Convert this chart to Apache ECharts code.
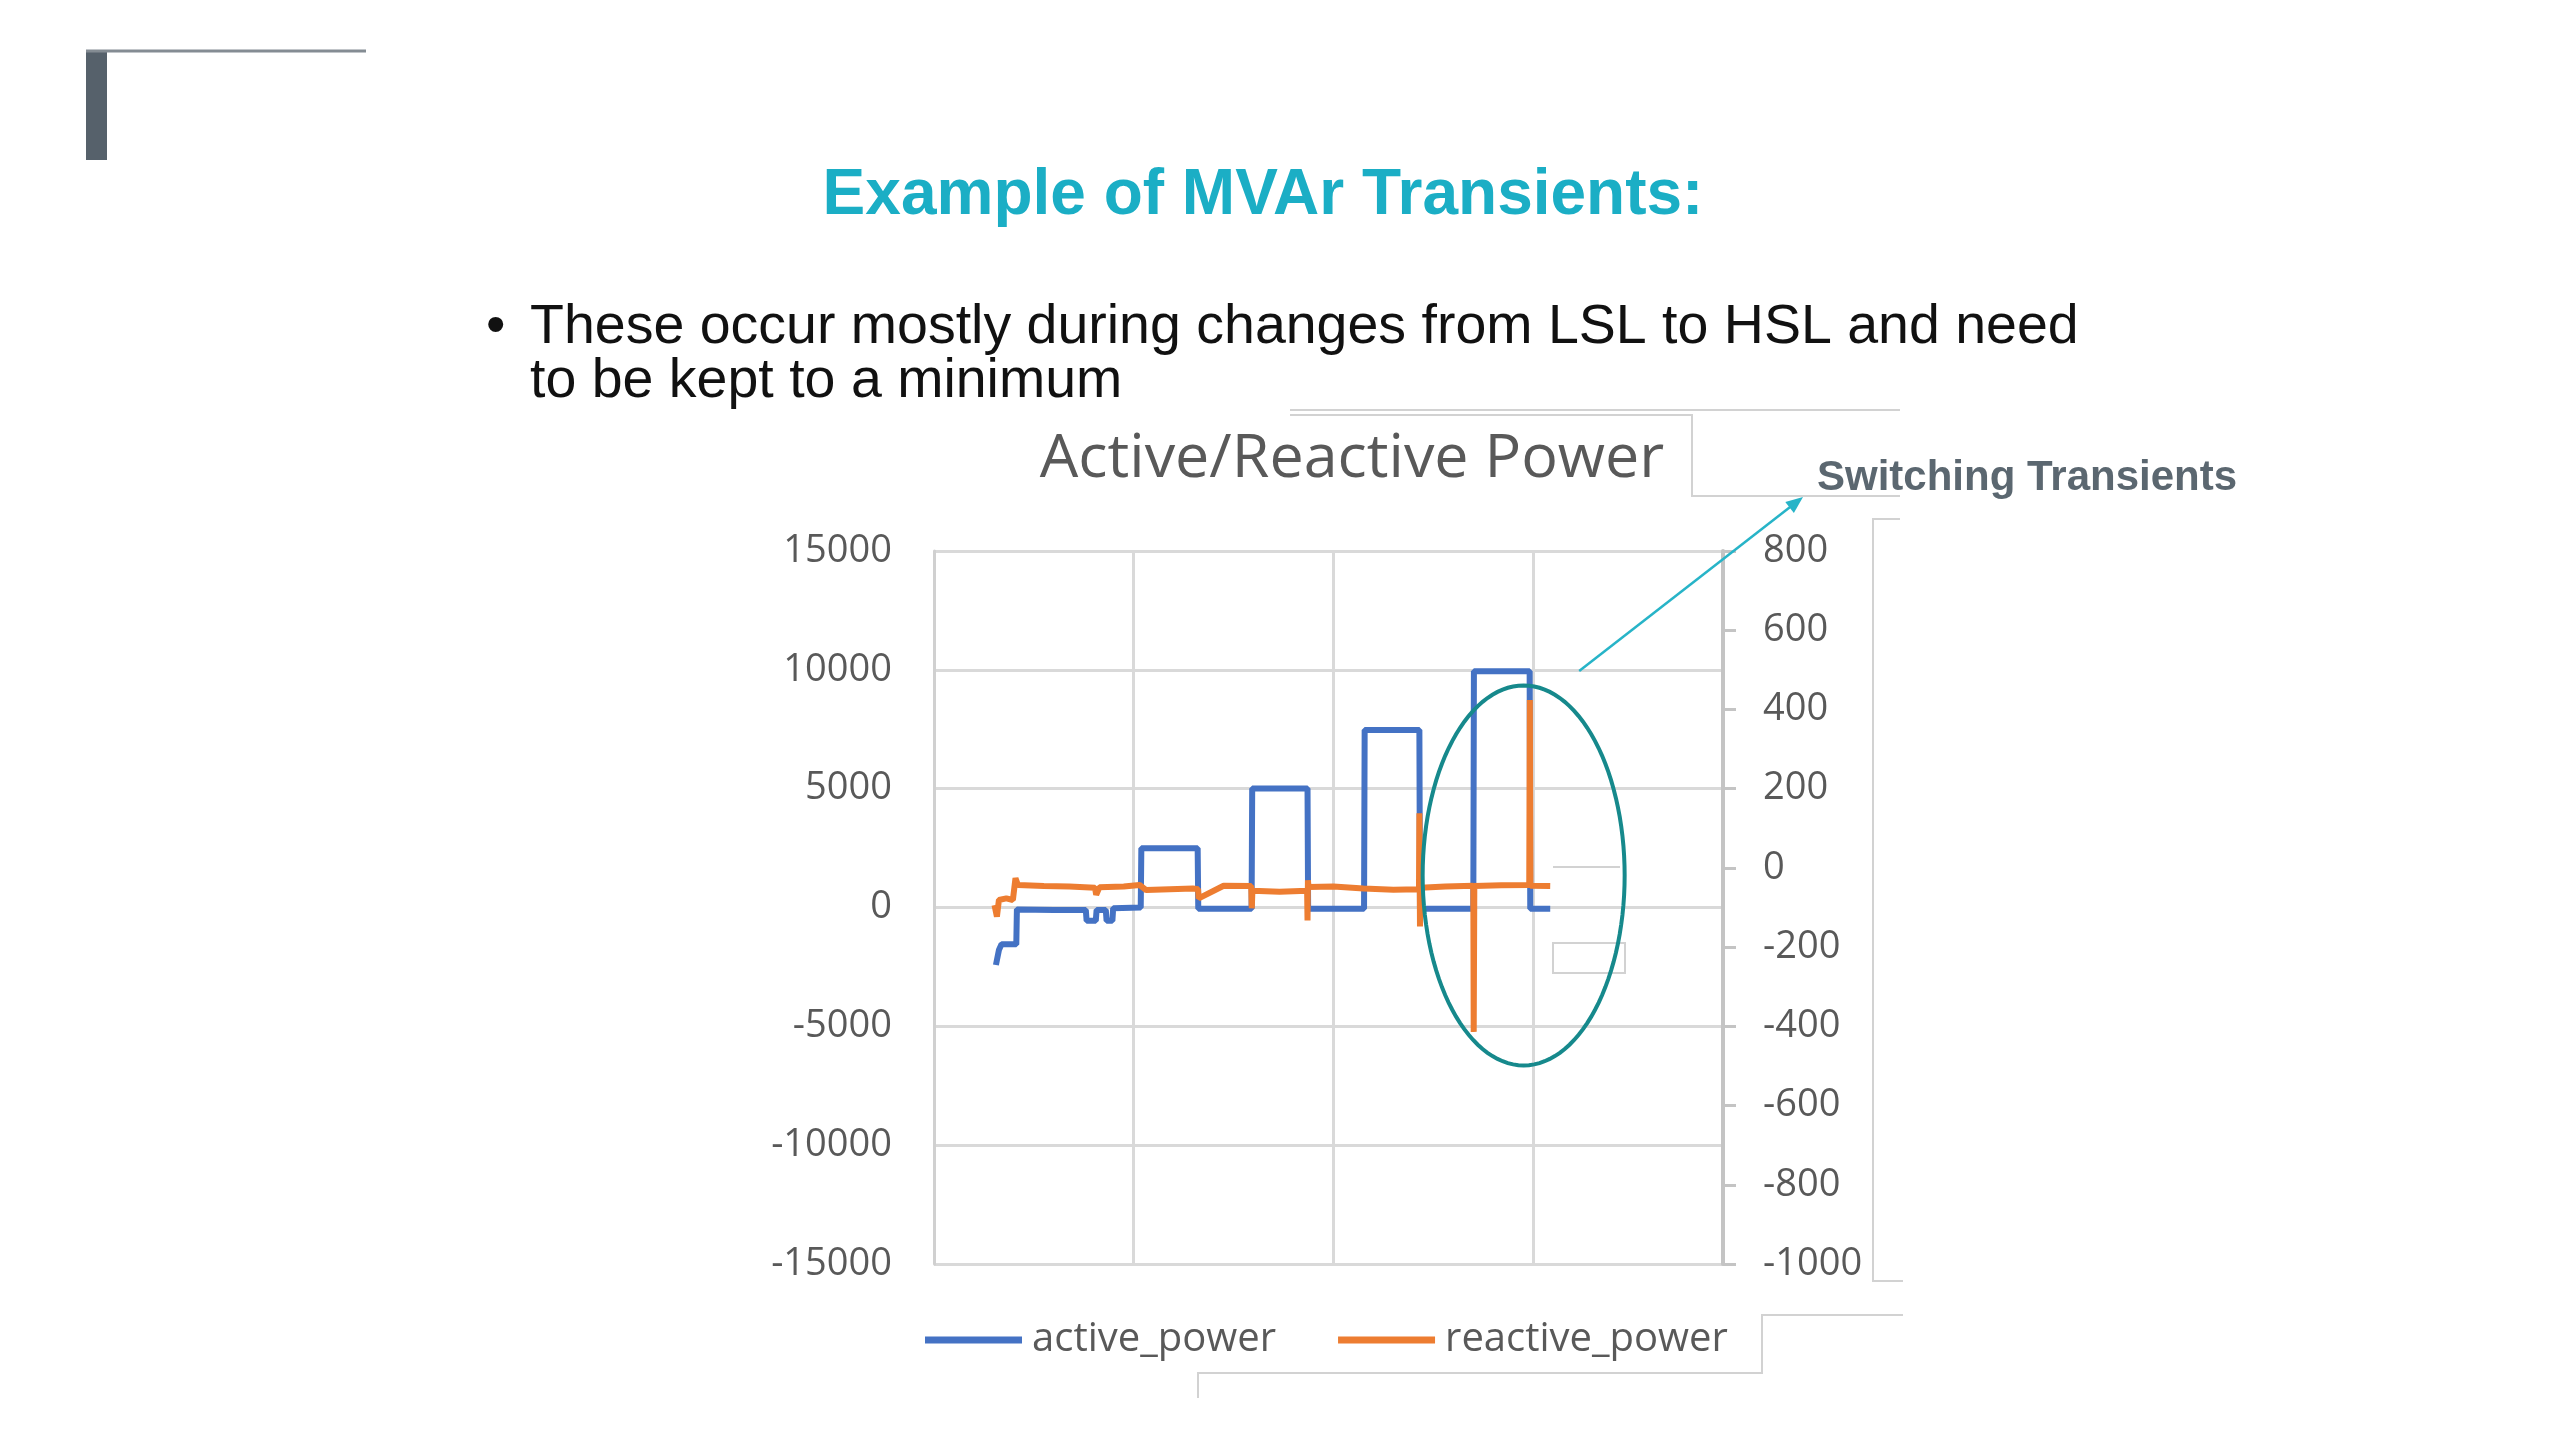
<!DOCTYPE html>
<html>
<head>
<meta charset="utf-8">
<title>Example of MVAr Transients</title>
<script src="https://cdn.jsdelivr.net/npm/echarts@6/dist/echarts.min.js"></script>
<style>
  html, body { margin: 0; padding: 0; background: #fff; }
  #main { width: 2560px; height: 1440px; }
</style>
</head>
<body>
<div id="main"></div>
<script>
// sample index (x) and active power (MW)
var activeT = [31, 32.5, 33.8, 41.2, 41.5, 60, 76, 76.4, 81, 81.4, 86, 86.4, 89.3, 89.7, 103.5, 103.8, 132, 132.3, 159, 159.3, 187, 187.3, 215.3, 215.6, 243, 243.3, 270, 270.3, 298.2, 298.5, 308.5];
var activeP = [-2420, -1790, -1550, -1550, -80, -100, -100, -560, -560, -100, -100, -560, -560, -30, 0, 2490, 2490, -50, -50, 5010, 5010, -50, -50, 7470, 7470, -50, -50, 9940, 9940, -50, -50];

// reactive power (MVAr), right axis
var reactiveT = [30.3, 31.5, 32.5, 36.2, 39.5, 40.8, 42, 55, 67.8, 80.6, 81.2, 82.8, 95, 102.9, 106.2, 118, 129.6, 132.2, 132.5, 145, 158.8, 159.1, 159.4, 173, 186.8, 187, 187.2, 187.5, 200, 215, 230, 242.8, 243, 243.3, 243.6, 256, 270, 270.2, 270.5, 284, 298, 298.3, 298.6, 308.5];
var reactiveQ = [-94, -123, -81, -77, -81, -26, -43, -46, -47, -50, -68, -49, -47, -43, -56, -54, -52, -54, -77, -45, -46, -102, -58, -60, -58, -133, -31, -48, -47, -52, -55, -54, 138, -148, -50, -47, -45, -414, -46, -44, -43, 424, -45, -46];

// axis ticks
var leftTicks = { min: -15000, max: 15000, step: 5000 };
var rightTicks = { min: -1000, max: 800, step: 200 };
var xTicks = { min: 0, max: 395, step: 100 };

var legendNames = ['active_power', 'reactive_power'];
var seriesColors = ['#4472C4', '#ED7D31'];

function toPairs(xs, ys) {
  var out = [];
  for (var i = 0; i < xs.length; i++) {
    out.push([xs[i], ys[i]]);
  }
  return out;
}

// plain numbers, no thousands separator
function plain(v) {
  return String(v);
}

var chart = echarts.init(document.getElementById('main'), null, { renderer: 'canvas' });

var axisFont = '"Open Sans", "DejaVu Sans", sans-serif';
var slideFont = '"Liberation Sans", Arial, sans-serif';

var option = {
  animation: false,
  backgroundColor: '#ffffff',
  color: seriesColors,
  grid: { left: 934, right: 837, top: 551, bottom: 176, containLabel: false },
  legend: {
    data: legendNames,
    left: 920,
    top: 1315,
    icon: 'rect',
    itemWidth: 97,
    itemHeight: 7,
    itemGap: 62,
    textStyle: { fontFamily: axisFont, fontSize: 40, color: '#595959', padding: [0, 0, 0, 5] }
  },
  xAxis: {
    type: 'value',
    min: xTicks.min,
    max: xTicks.max,
    interval: xTicks.step,
    axisLine: { show: false, onZero: false },
    axisTick: { show: false },
    axisLabel: { show: false },
    splitLine: { show: true, lineStyle: { color: '#d9d9d9', width: 3 } }
  },
  yAxis: [
    {
      type: 'value',
      position: 'left',
      min: leftTicks.min,
      max: leftTicks.max,
      interval: leftTicks.step,
      axisLine: { show: true, onZero: false, lineStyle: { color: '#d0d0d0', width: 3 } },
      axisTick: { show: false },
      axisLabel: { fontFamily: axisFont, fontSize: 38, color: '#595959', margin: 42, formatter: plain },
      splitLine: { show: true, lineStyle: { color: '#d9d9d9', width: 3 } }
    },
    {
      type: 'value',
      position: 'right',
      min: rightTicks.min,
      max: rightTicks.max,
      interval: rightTicks.step,
      axisLine: { show: true, onZero: false, lineStyle: { color: '#c4c4c4', width: 4 } },
      axisTick: { show: true, length: 13, lineStyle: { color: '#c4c4c4', width: 3 } },
      axisLabel: { fontFamily: axisFont, fontSize: 38, color: '#595959', margin: 40, formatter: plain },
      splitLine: { show: false }
    }
  ],
  series: [
    {
      name: legendNames[0],
      type: 'line',
      yAxisIndex: 0,
      data: toPairs(activeT, activeP),
      symbol: 'none',
      lineStyle: { width: 6, color: seriesColors[0] },
      z: 2
    },
    {
      name: legendNames[1],
      type: 'line',
      yAxisIndex: 1,
      data: toPairs(reactiveT, reactiveQ),
      symbol: 'none',
      lineStyle: { width: 6, color: seriesColors[1] },
      z: 3
    }
  ]
};
chart.setOption(option);

// slide decorations and callout
var ellipseCenter = chart.convertToPixel({ xAxisIndex: 0, yAxisIndex: 0 }, [295.2, 1350]);
var ellipsePts = [];
for (var k = 0; k < 120; k++) {
  var a = k / 120 * Math.PI * 2;
  ellipsePts.push([ellipseCenter[0] + 101 * Math.cos(a), ellipseCenter[1] + 190 * Math.sin(a)]);
}

var arrowFrom = chart.convertToPixel({ xAxisIndex: 0, yAxisIndex: 0 }, [323, 9950]);
var arrowTo = [1803, 497];
var dx = arrowTo[0] - arrowFrom[0], dy = arrowTo[1] - arrowFrom[1];
var len = Math.sqrt(dx * dx + dy * dy);
var ux = dx / len, uy = dy / len;
var headL = 17, headW = 7;
var headPts = [
  arrowTo,
  [arrowTo[0] - headL * ux - headW * uy, arrowTo[1] - headL * uy + headW * ux],
  [arrowTo[0] - headL * ux + headW * uy, arrowTo[1] - headL * uy - headW * ux]
];

var ghost = { stroke: '#d2d2d2', lineWidth: 2, fill: null };

chart.setOption({
  graphic: [
    // corner bracket
    { type: 'rect', shape: { x: 86, y: 51, width: 21, height: 109 }, style: { fill: '#56616B' } },
    { type: 'line', shape: { x1: 86, y1: 51, x2: 366, y2: 51 }, style: { stroke: '#848c93', lineWidth: 3 } },
    // slide heading
    { type: 'text', x: 1263, y: 196, style: { text: 'Example of MVAr Transients:', font: 'bold 64px ' + slideFont, fill: '#1BAEC5', textAlign: 'center', textVerticalAlign: 'middle' } },
    { type: 'text', x: 486, y: 328, style: { text: '\u2022', font: '55.5px ' + slideFont, fill: '#111', textAlign: 'left', textVerticalAlign: 'middle' } },
    { type: 'text', x: 530, y: 328, style: { text: 'These occur mostly during changes from LSL to HSL and need', font: '55.5px ' + slideFont, fill: '#111', textAlign: 'left', textVerticalAlign: 'middle' } },
    { type: 'text', x: 530, y: 382, style: { text: 'to be kept to a minimum', font: '55.5px ' + slideFont, fill: '#111', textAlign: 'left', textVerticalAlign: 'middle' } },
    // leftover screenshot borders
    { type: 'polyline', shape: { points: [[1290, 410], [1900, 410]] }, style: ghost },
    { type: 'polyline', shape: { points: [[1290, 415], [1692, 415], [1692, 496], [1900, 496]] }, style: ghost },
    { type: 'polyline', shape: { points: [[1900, 519], [1873, 519], [1873, 1281], [1903, 1281]] }, style: ghost },
    { type: 'polyline', shape: { points: [[1903, 1315], [1762, 1315], [1762, 1373], [1198, 1373], [1198, 1398]] }, style: ghost },
    { type: 'polyline', shape: { points: [[1553, 867], [1620, 867]] }, style: ghost },
    { type: 'rect', shape: { x: 1553, y: 943, width: 72, height: 30 }, style: ghost },
    // chart title
    { type: 'text', x: 1352, y: 460, style: { text: 'Active/Reactive Power', font: '61px ' + axisFont, fill: '#595959', textAlign: 'center', textVerticalAlign: 'middle' } },
    // callout
    { type: 'polygon', shape: { points: ellipsePts }, style: { stroke: '#16898C', lineWidth: 4, fill: null }, z: 10 },
    { type: 'line', shape: { x1: arrowFrom[0], y1: arrowFrom[1], x2: arrowTo[0] - headL * ux * 0.6, y2: arrowTo[1] - headL * uy * 0.6 }, style: { stroke: '#27B4C8', lineWidth: 2.5 }, z: 10 },
    { type: 'polygon', shape: { points: headPts }, style: { fill: '#27B4C8' }, z: 10 },
    { type: 'text', x: 1817, y: 478, style: { text: 'Switching Transients', font: 'bold 42px ' + slideFont, fill: '#5B6770', textAlign: 'left', textVerticalAlign: 'middle' } }
  ]
});
</script>
</body>
</html>
